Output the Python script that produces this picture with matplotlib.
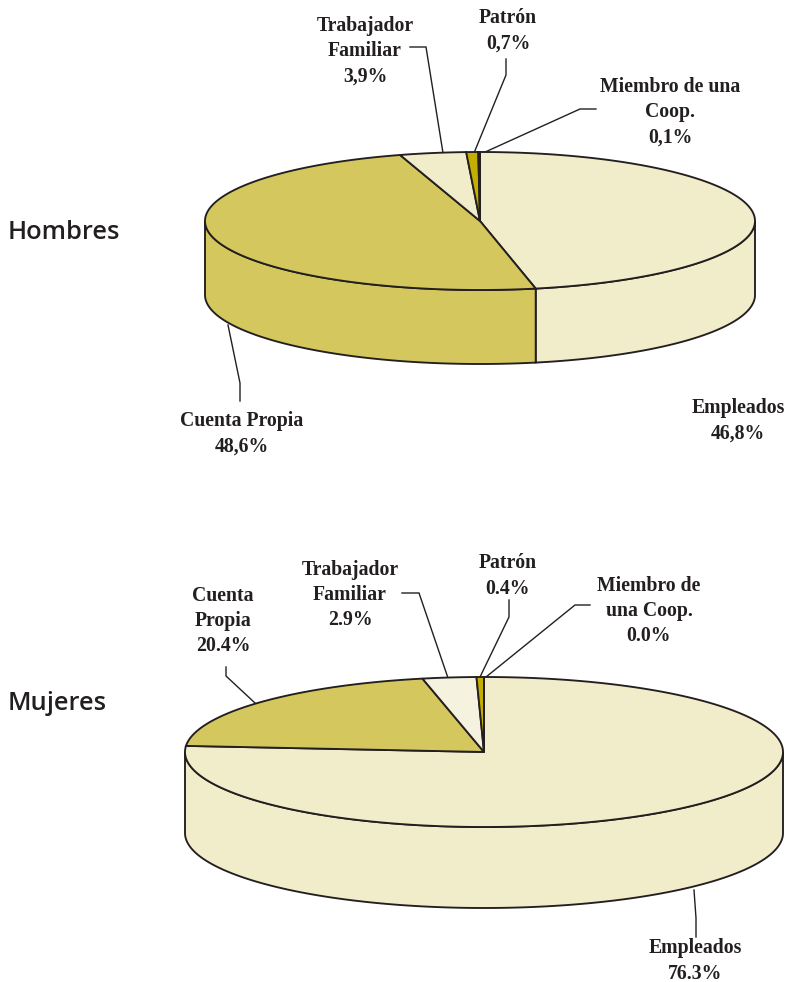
import numpy as np
import matplotlib
matplotlib.use("Agg")
import matplotlib.pyplot as plt
from matplotlib.patches import Polygon

# slice order runs clockwise from 12 o'clock
categories = ["Empleados", "Cuenta Propia", "Trabajador Familiar", "Patrón", "Miembro de una Coop."]
hombres_values = [46.8, 48.6, 3.9, 0.7, 0.1]
mujeres_values = [76.3, 20.4, 2.9, 0.4, 0.0]
hombres_colors = ["#F1ECC9", "#D3C75E", "#F1ECC9", "#C4AF00", "#55501A"]
mujeres_colors = ["#F1ECC9", "#D3C75E", "#F6F2E0", "#C4AF00", "#55501A"]

LINE = "#231F20"
SERIF = "Liberation Serif"


def ellipse_points(cx, cy, rx, ry, start, stop, dy=0):
    """Points on the pie rim between two clockwise angles (degrees from top)."""
    n = max(int(abs(stop - start) * 2), 2)
    t = np.radians(np.linspace(start, stop, n))
    return np.column_stack([cx + rx * np.sin(t), cy - ry * np.cos(t) + dy])


def draw_pie(ax, values, colors, cx, cy, rx, ry, depth):
    """Draw a tilted pie with a side wall from the percentage values."""
    edges = np.cumsum([0] + list(values)) / sum(values) * 360

    # side wall, only the front half of the rim shows
    for i, color in enumerate(colors):
        start = max(edges[i], 90)
        stop = min(edges[i + 1], 270)
        if stop <= start:
            continue
        top = ellipse_points(cx, cy, rx, ry, start, stop)
        bottom = ellipse_points(cx, cy, rx, ry, start, stop, depth)
        ax.add_patch(Polygon(np.vstack([top, bottom[::-1]]), closed=True,
                             facecolor=color, edgecolor=LINE, linewidth=1.35, zorder=2))

    # top face
    for i, color in enumerate(colors):
        rim = ellipse_points(cx, cy, rx, ry, edges[i], edges[i + 1])
        ax.add_patch(Polygon(np.vstack([[cx, cy], rim]), closed=True,
                             facecolor=color, edgecolor=LINE, linewidth=1.35, zorder=3))


def leader(ax, points):
    xs, ys = zip(*points)
    ax.plot(xs, ys, color=LINE, linewidth=1.0, zorder=1, solid_joinstyle="miter")


def label(ax, x, y, text):
    ax.text(x, y, text, family=SERIF, fontweight="bold", fontsize=14.2, color=LINE,
            ha="center", va="center", linespacing=1.36)


fig = plt.figure(figsize=(7.88, 9.82), dpi=100)
ax = fig.add_axes([0, 0, 1, 1])
ax.set_xlim(0, 788)
ax.set_ylim(982, 0)
ax.axis("off")

draw_pie(ax, hombres_values, hombres_colors, 480, 221, 275, 69, 74)
draw_pie(ax, mujeres_values, mujeres_colors, 484, 752, 299, 75, 81)

# Hombres labels
leader(ax, [(410, 47), (426, 47), (443, 153)])
leader(ax, [(506, 59), (506, 75), (474, 153)])
leader(ax, [(596, 109), (580, 109), (483, 153)])
leader(ax, [(240, 401), (240, 383), (228, 325)])
label(ax, 365, 51, "Trabajador\nFamiliar\n3,9%")
label(ax, 508, 31, "Patrón\n0,7%")
label(ax, 670, 112, "Miembro de una\nCoop.\n0,1%")
label(ax, 242, 434, "Cuenta Propia\n48,6%")
label(ax, 738, 421, "Empleados\n46,8%")

# Mujeres labels
leader(ax, [(402, 593), (419, 593), (448, 678)])
leader(ax, [(509, 600), (509, 617), (480, 677)])
leader(ax, [(590, 605), (575, 605), (486, 677)])
leader(ax, [(226, 667), (226, 676), (255, 703)])
leader(ax, [(696, 937), (696, 918), (694, 890)])
label(ax, 350, 595, "Trabajador\nFamiliar\n2.9%")
label(ax, 508, 576, "Patrón\n0.4%")
label(ax, 649, 611, "Miembro de\nuna Coop.\n0.0%")
label(ax, 223, 621, "Cuenta\nPropia\n20.4%")
label(ax, 695, 961, "Empleados\n76.3%")

# group names
ax.text(8, 232, "Hombres", family="Open Sans", fontsize=18.4, fontweight="semibold",
        color=LINE, ha="left", va="center")
ax.text(8, 703, "Mujeres", family="Open Sans", fontsize=18.4, fontweight="semibold",
        color=LINE, ha="left", va="center")

fig.savefig("out.png", dpi=100, facecolor="white")
